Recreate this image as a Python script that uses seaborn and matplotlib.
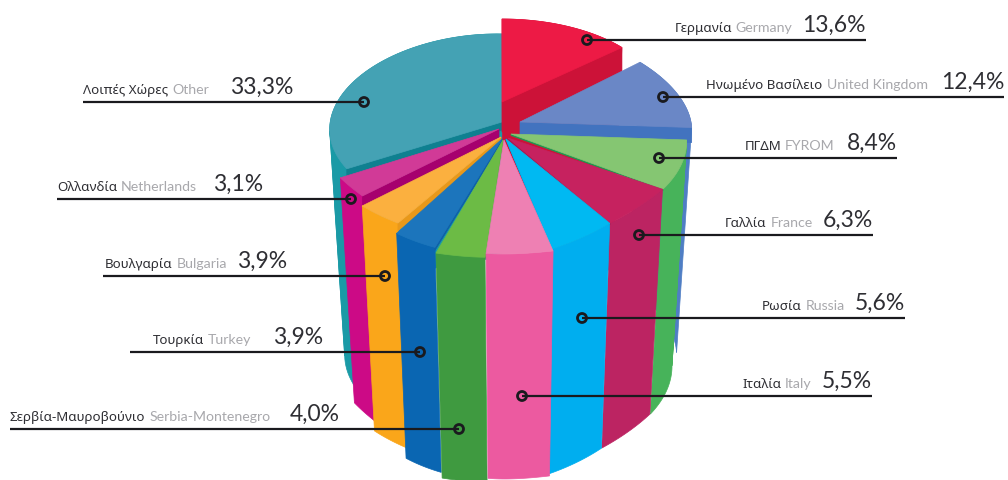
import numpy as np
import pandas as pd
import matplotlib
matplotlib.use("Agg")
import matplotlib.pyplot as plt
from matplotlib.patches import Polygon
import seaborn as sns

# ---- data ----
greek = ["Γερμανία", "Ηνωμένο Βασίλειο", "ΠΓΔΜ", "Γαλλία", "Ρωσία", "Ιταλία",
         "Σερβία-Μαυροβούνιο", "Τουρκία", "Βουλγαρία", "Ολλανδία", "Λοιπές Χώρες"]
english = ["Germany", "United Kingdom", "FYROM", "France", "Russia", "Italy",
           "Serbia-Montenegro", "Turkey", "Bulgaria", "Netherlands", "Other"]
shares = [13.6, 12.4, 8.4, 6.3, 5.6, 5.5, 4.0, 3.9, 3.9, 3.1, 33.3]

# ---- styles ----
top_colors = ["#ED1A45", "#6A87C6", "#85C672", "#C6225F", "#00B9F2", "#EE80B3",
              "#6CBB45", "#1C75BC", "#FBB03F", "#D13A97", "#44A2B4"]
side_colors = ["#CC1238", "#4F7EC4", "#47B35A", "#BC2462", "#00AEEF", "#EC5AA0",
               "#3F9A40", "#0A66B2", "#FAA61A", "#CC0A86", "#1A9AA6"]
wall_colors = ["#CC1238", "#4273BF", "#1E9A50", "#A81850", "#0090C8", "#EC5AA0",
               "#3F9A40", "#0F5FA8", "#E8981A", "#A6006E", "#0F8090"]

# ---- exploded layout, one entry per slice: apex, radii at both slice edges, cut wall depth ----
apex_x = [502, 520, 511, 508, 506, 504, 503, 502, 501, 499, 502]
apex_y = [103, 123, 135, 139, 140, 141, 141, 140, 138, 130, 123]
rx_start = [159, 159, 176, 186, 188, 213, 159, 188, 180, 181, 179]
rx_end = [159, 172, 183, 185, 200, 159, 188, 184, 184, 183, 150]
ry_start = [83, 91, 95, 92, 101, 114, 118, 116, 105, 102, 94]
ry_end = [83, 88, 99, 102, 113, 114, 121, 115, 105, 98, 88]
wall_depth = [30, 15, 1.5, 1.5, 0.8, 0, 1, 3, 8, 10, 8]
paint_order = [10, 0, 1, 2, 3, 4, 9, 8, 7, 6, 5]
cyl_height = 225
vanish_x, vanish_k = 510, 0.917

# ---- leader anchors: marker x, line y, far end of line, text edge, gap before the value ----
marker_x = [587, 663, 659, 639, 582, 522, 459, 420, 385, 351, 364]
line_y = [41, 98, 159, 236, 319, 397, 430, 353, 277, 200, 103]
line_end = [866, 1004, 897, 873, 905, 872, 10, 130, 103, 57, 83]
text_edge = [866, 1004, 897, 873, 905, 872, 10, 153, 105, 57, 83]
value_gap = [10, 13, 12, 10, 10, 10, 19, 21, 10, 16, 21]

sns.set_theme(style="white")
LABEL_FONT = ["Lato", "Noto Sans"]
GREEK_FONT = ["Noto Sans", "DejaVu Sans"]
fig, ax = plt.subplots(figsize=(10.08, 4.81), dpi=100)
ax.set_position([0, 0, 1, 1])

edges = np.deg2rad(np.concatenate([[0], np.cumsum(shares)]) / sum(shares) * 360)

def poly(points, color, z):
    ax.add_patch(Polygon(points, closed=True, facecolor=color, edgecolor=color,
                         linewidth=0.5, zorder=z))

z = 1
for i in paint_order:
    t = np.linspace(0, 1, 60)
    th = edges[i] + (edges[i + 1] - edges[i]) * t
    rx = rx_start[i] + (rx_end[i] - rx_start[i]) * t
    ry = ry_start[i] + (ry_end[i] - ry_start[i]) * t
    xs = apex_x[i] + rx * np.sin(th)
    ys = apex_y[i] - ry * np.cos(th)
    arc = np.column_stack([xs, ys])
    bottom = np.column_stack([vanish_x + (xs - vanish_x) * vanish_k, ys + cyl_height])
    # outer wall, split where the arc turns back so that no piece folds onto itself
    turns = np.where(np.diff(np.sign(np.diff(xs))) != 0)[0] + 1
    cuts = [0, *turns.tolist(), len(t) - 1]
    for a0, a1 in zip(cuts[:-1], cuts[1:]):
        poly(np.vstack([arc[a0:a1 + 1], bottom[a0:a1 + 1][::-1]]), side_colors[i], z)
    z += 1
    # cut wall along the lower radial edge of the slice
    corner = arc[-1] if np.cos(th[-1]) < np.cos(th[0]) else arc[0]
    d = wall_depth[i]
    if d > 0:
        a = np.array([apex_x[i], apex_y[i]], float)
        poly(np.array([a, corner, corner + [0, d], a + [0, d]]), wall_colors[i], z)
        z += 1
    poly(np.vstack([[apex_x[i], apex_y[i]], arc]), top_colors[i], z)
    z += 1

# leader lines and ring markers
DARK = "#1A1A1E"
for mx, ly, le in zip(marker_x, line_y, line_end):
    ax.plot([mx, le], [ly, ly], color=DARK, lw=1.6, zorder=200, solid_capstyle="butt")
markers = pd.DataFrame({"x": marker_x, "y": line_y})
sns.scatterplot(data=markers, x="x", y="y", ax=ax, s=42, marker="o", facecolor="none",
                edgecolor=DARK, linewidth=2.0, zorder=201, legend=False)
ax.set_xlim(0, 1008)
ax.set_ylim(481, 0)
ax.axis("off")

# composite labels
fig.canvas.draw()
rend = fig.canvas.get_renderer()

def put(x, y, s, size, color, family, ha):
    tx = ax.text(x, y, s, fontsize=size, color=color, family=family, ha=ha, va="baseline", zorder=210)
    return tx, tx.get_window_extent(rend).width

for i in range(len(shares)):
    y = line_y[i] - 9
    val = f"{shares[i]:.1f}%".replace(".", ",")
    parts = [(greek[i], 9.6, "#2E2E33", GREEK_FONT), (english[i], 10.2, "#A8A8AC", LABEL_FONT),
             (val, 16.5, "#2E2E33", LABEL_FONT)]
    gaps = [4, value_gap[i]]
    if i <= 5:  # right-hand labels end at the end of the line
        x = text_edge[i]
        for k in (2, 1, 0):
            s, size, col, fam = parts[k]
            _, w = put(x, y, s, size, col, fam, "right")
            x -= w + (gaps[k - 1] if k else 0)
    else:
        x = text_edge[i]
        for k in (0, 1, 2):
            s, size, col, fam = parts[k]
            _, w = put(x, y, s, size, col, fam, "left")
            x += w + (gaps[k] if k < 2 else 0)

fig.savefig("out.png", dpi=100, facecolor="white")
